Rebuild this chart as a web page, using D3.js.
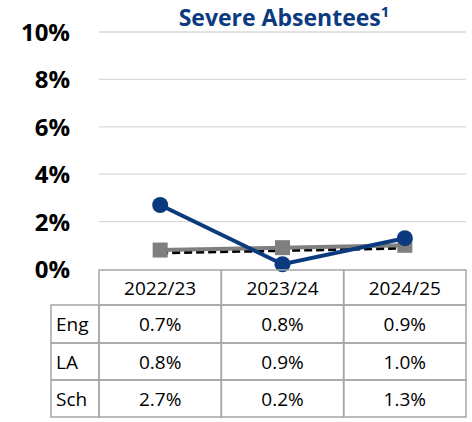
<!DOCTYPE html>
<html>
<head>
<meta charset="utf-8">
<script src="https://cdn.jsdelivr.net/npm/d3@7"></script>
<style>
  body { margin: 0; background: #fff; }
  text { font-family: "Open Sans", "Noto Sans", sans-serif; }
</style>
</head>
<body>
<script>
// chart data
var years = ["2022/23", "2023/24", "2024/25"];
var seriesNames = ["Eng", "LA", "Sch"];
var eng = [0.7, 0.8, 0.9];
var la = [0.8, 0.9, 1.0];
var sch = [2.7, 0.2, 1.3];
var yTicks = [0, 2, 4, 6, 8, 10];

var w = 472, h = 422;
var plotL = 99, plotR = 466, plotT = 32, plotB = 269;
var labelL = 51;
var rowH = [270, 305, 343, 380, 417];

var svg = d3.select("body").append("svg")
  .attr("width", w).attr("height", h);

var x = d3.scaleBand().domain(years).range([plotL, plotR]);
var y = d3.scaleLinear().domain([0, 10]).range([plotB, plotT]);

// gridlines
svg.append("g").selectAll("line")
  .data(yTicks.filter(function(d) { return d > 0; }))
  .enter().append("line")
  .attr("x1", plotL).attr("x2", plotR)
  .attr("y1", function(d) { return y(d); })
  .attr("y2", function(d) { return y(d); })
  .attr("stroke", "#d9d9d9").attr("stroke-width", 1.3);

// y labels
svg.append("g").selectAll("text")
  .data(yTicks)
  .enter().append("text")
  .attr("x", 70)
  .attr("y", function(d) { return y(d) + 9; })
  .attr("text-anchor", "end")
  .attr("font-size", 24)
  .attr("font-weight", "bold")
  .attr("fill", "#000")
  .text(function(d) { return d + "%"; });

// title
var title = svg.append("text")
  .attr("x", 284).attr("y", 26)
  .attr("text-anchor", "middle")
  .attr("font-size", 23)
  .attr("font-weight", "bold")
  .attr("fill", "#0b3a7e");
title.append("tspan").text("Severe Absentees");
title.append("tspan").attr("font-size", 15).attr("dy", -9).text("1");

var line = d3.line()
  .x(function(d, i) { return x(years[i]) + x.bandwidth() / 2; })
  .y(function(d) { return y(d); });

// Eng dashed
svg.append("path").datum(eng)
  .attr("d", line)
  .attr("fill", "none")
  .attr("stroke", "#000")
  .attr("stroke-width", 4)
  .attr("stroke-dasharray", "8,4");

// LA grey with squares
svg.append("path").datum(la)
  .attr("d", line)
  .attr("fill", "none")
  .attr("stroke", "#7f7f7f")
  .attr("stroke-width", 4);
svg.append("g").selectAll("rect")
  .data(la).enter().append("rect")
  .attr("x", function(d, i) { return x(years[i]) + x.bandwidth() / 2 - 7.5; })
  .attr("y", function(d) { return y(d) - 7.5; })
  .attr("width", 15).attr("height", 15)
  .attr("fill", "#7f7f7f");

// school navy with circles
svg.append("path").datum(sch)
  .attr("d", line)
  .attr("fill", "none")
  .attr("stroke", "#0b3a7e")
  .attr("stroke-width", 4);
svg.append("g").selectAll("circle")
  .data(sch).enter().append("circle")
  .attr("cx", function(d, i) { return x(years[i]) + x.bandwidth() / 2; })
  .attr("cy", function(d) { return y(d); })
  .attr("r", 8)
  .attr("fill", "#0b3a7e");

// data table
var tbl = svg.append("g");
var stroke = "#a6a6a6";
var rows = [eng, la, sch];

// header cells
tbl.selectAll(".hdr")
  .data(years).enter().append("rect")
  .attr("x", function(d) { return x(d); })
  .attr("y", rowH[0])
  .attr("width", x.bandwidth())
  .attr("height", rowH[1] - rowH[0])
  .attr("fill", "none").attr("stroke", stroke).attr("stroke-width", 1.5);
tbl.selectAll(".hdrt")
  .data(years).enter().append("text")
  .attr("x", function(d) { return x(d) + x.bandwidth() / 2; })
  .attr("y", (rowH[0] + rowH[1]) / 2 + 7)
  .attr("text-anchor", "middle")
  .attr("font-size", 19)
  .attr("fill", "#000")
  .text(function(d) { return d; });

rows.forEach(function(vals, r) {
  var top = rowH[r + 1], bot = rowH[r + 2];
  tbl.append("rect")
    .attr("x", labelL).attr("y", top)
    .attr("width", plotL - labelL).attr("height", bot - top)
    .attr("fill", "none").attr("stroke", stroke).attr("stroke-width", 1.5);
  tbl.append("text")
    .attr("x", labelL + 5).attr("y", (top + bot) / 2 + 7)
    .attr("font-size", 19).attr("fill", "#000")
    .text(seriesNames[r]);
  vals.forEach(function(v, i) {
    tbl.append("rect")
      .attr("x", x(years[i])).attr("y", top)
      .attr("width", x.bandwidth()).attr("height", bot - top)
      .attr("fill", "none").attr("stroke", stroke).attr("stroke-width", 1.5);
    tbl.append("text")
      .attr("x", x(years[i]) + x.bandwidth() / 2)
      .attr("y", (top + bot) / 2 + 7)
      .attr("text-anchor", "middle")
      .attr("font-size", 19).attr("fill", "#000")
      .text(v.toFixed(1) + "%");
  });
});
</script>
</body>
</html>
